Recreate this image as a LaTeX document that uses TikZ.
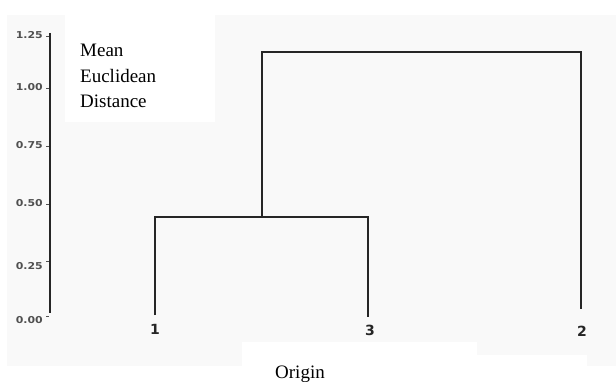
\documentclass[tikz,border=0pt]{standalone}
\usepackage{fontspec}
\setmainfont{Liberation Serif}
\newfontfamily\numfont{DejaVu Sans}
\definecolor{bggray}{HTML}{F9F9F9}
\definecolor{linecol}{HTML}{262626}
\definecolor{numcol}{HTML}{505050}
\begin{document}
\begin{tikzpicture}[x=1pt,y=-1pt,
  dline/.style={draw=linecol,line width=2.6pt,line cap=butt,line join=miter},
  axlab/.style={anchor=east,inner sep=0pt,text=numcol,font=\numfont\bfseries\fontsize{9.5}{10}\selectfont,xscale=1.15},
  leaflab/.style={anchor=center,inner sep=0pt,text=linecol,font=\numfont\bfseries\fontsize{14}{15}\selectfont},
  titlab/.style={anchor=base west,inner sep=0pt,font=\fontsize{19}{20}\selectfont}]
\useasboundingbox (0,0) rectangle (616,382);
% backgrounds
\fill[white] (0,0) rectangle (616,382);
\fill[bggray] (7,15) rectangle (616,366);
\fill[white] (65,0) rectangle (215,122);
\fill[white] (242,342) rectangle (477,382);
\fill[white] (477,355) rectangle (587,382);
% axis
\coordinate (axtop) at (50,33);
\coordinate (axbot) at (50,313);
\draw[dline] (axtop) -- (axbot);
\foreach \y/\ly/\t in {36/35/1.25,88/87/1.00,146/145/0.75,204/203/0.50,261/266/0.25,316/320/0.00}{
  \draw[numcol,line width=0.8pt] (46,\y) -- (48.5,\y);
  \node[axlab] at (43,\ly) {\t};
}
% title
\node[titlab] (t1) at (80,57) {Mean};
\node[titlab] (t2) at (80,83) {Euclidean};
\node[titlab] (t3) at (80,108) {Distance};
\node[titlab] (orig) at (275,378) {Origin};
% leaves
\node[leaflab] (n1) at (155,329) {1};
\node[leaflab] (n3) at (370,330.5) {3};
\node[leaflab] (n2) at (582,331) {2};
\coordinate (l1) at (155,315);
\coordinate (l3) at (368,317);
\coordinate (l2) at (581,309);
\coordinate (j1) at (155,217);
\coordinate (j3) at (368,217);
\coordinate (m13) at (262,217);
\coordinate (r1) at (262,52);
\coordinate (r2) at (581,52);
\draw[dline] (l1) -- (j1) -- (j3) -- (l3);
\draw[dline] (m13) -- (r1) -- (r2) -- (l2);
\end{tikzpicture}
\end{document}
